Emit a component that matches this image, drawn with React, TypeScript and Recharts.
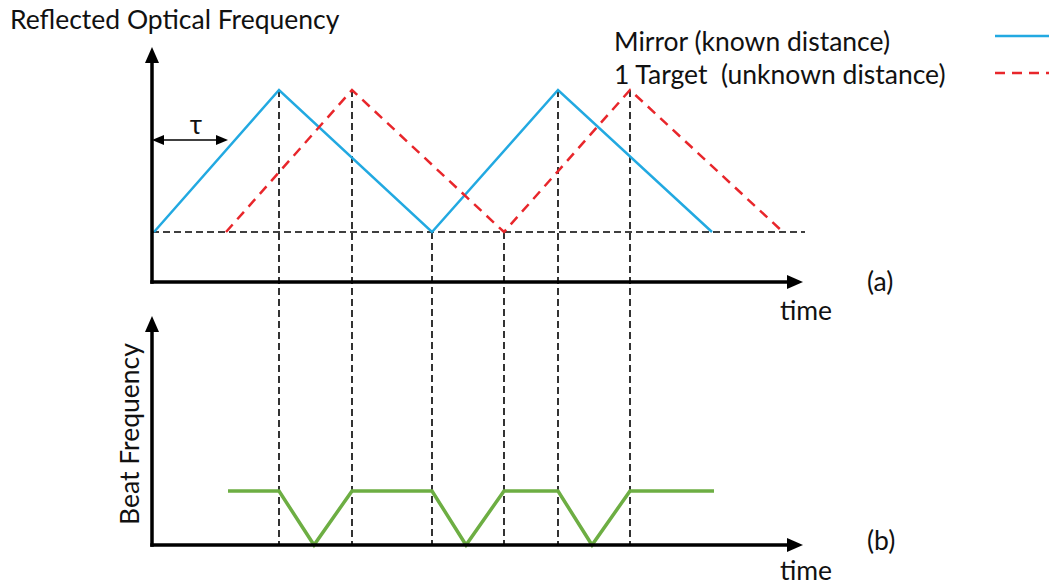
import React from 'react';
import { ComposedChart, Line, XAxis, YAxis, ReferenceLine, Customized } from 'recharts';

// ---- data (time in arbitrary units, frequency normalised) ----
const mirrorTimes = [2, 127, 280, 406, 560];
const mirrorFreq = [0, 1, 0, 1, 0];
const targetTimes = [74, 200, 352, 478, 631];
const targetFreq = [0, 1, 0, 1, 0];
const beatTimes = [76, 127, 162, 200, 280, 314, 352, 406, 440, 478, 562];
const beatFreq = [1, 1, 0, 1, 1, 0, 1, 1, 0, 1, 1];
const markerTimes = [127, 200, 280, 352, 406, 478];
const markerFreq = [1, 1, 0, 0, 1, 1];
const tauEnd = 76;
const legendLabels = ['Mirror (known distance)', '1 Target  (unknown distance)'];

const mirrorData = mirrorTimes.map((t, i) => ({ t, f: mirrorFreq[i] }));
const targetData = targetTimes.map((t, i) => ({ t, f: targetFreq[i] }));
const beatData = beatTimes.map((t, i) => ({ t, f: beatFreq[i] }));

// ---- layout ----
const W = 1049;
const H = 585;
const X0 = 152; // pixel of t = 0
const xDomain = [-X0, W - X0];
// optical axis: f=0 at px 232, f=1 at px 90
const OPT0 = 232, OPTK = 142;
const optDomain = [OPT0 / OPTK - H / OPTK, OPT0 / OPTK];
const optV = (p: number) => (OPT0 - p) / OPTK;
// beat axis: f=0 at px 545, f=1 at px 491
const BEAT0 = 545, BEATK = 54;
const beatDomain = [BEAT0 / BEATK - H / BEATK, BEAT0 / BEATK];
const beatV = (p: number) => (BEAT0 - p) / BEATK;

const BLUE = '#22A9E1';
const RED = '#E8262B';
const GREEN = '#6DAE43';
const FONT = 'Lato, "Open Sans", sans-serif';

const arrowShape = (lw: number, hl: number, hw: number, both = false) => (props: any) => {
  const { x1, y1, x2, y2 } = props;
  const dx = x2 - x1, dy = y2 - y1;
  const len = Math.hypot(dx, dy) || 1;
  const ux = dx / len, uy = dy / len;
  const px = -uy, py = ux;
  const bx = x2 - ux * hl, by = y2 - uy * hl;
  const sx = both ? x1 + ux * hl : x1 - ux * (lw / 2);
  const sy = both ? y1 + uy * hl : y1 - uy * (lw / 2);
  return (
    <g>
      <line x1={sx} y1={sy} x2={bx + ux} y2={by + uy} stroke="#000" strokeWidth={lw} />
      <polygon points={`${x2},${y2} ${bx + px * hw},${by + py * hw} ${bx - px * hw},${by - py * hw}`} fill="#000" />
      {both && (
        <polygon
          points={`${x1},${y1} ${x1 + ux * hl + px * hw},${y1 + uy * hl + py * hw} ${x1 + ux * hl - px * hw},${y1 + uy * hl - py * hw}`}
          fill="#000"
        />
      )}
    </g>
  );
};

const Texts = () => (
  <g fontFamily={FONT} fill="#111" fontSize={26.5}>
    <text x={10} y={29}>Reflected Optical Frequency</text>
    <text x={614} y={51}>{legendLabels[0]}</text>
    <text x={614} y={84} style={{ whiteSpace: 'pre' }}>{legendLabels[1]}</text>
    <line x1={995} y1={36} x2={1049} y2={36} stroke={BLUE} strokeWidth={2.5} />
    <line x1={995} y1={73} x2={1049} y2={73} stroke={RED} strokeWidth={2.5} strokeDasharray="10 7" />
    <text x={780} y={320}>time</text>
    <text x={780} y={580}>time</text>
    <text x={867} y={291}>(a)</text>
    <text x={867} y={550}>(b)</text>
    <text x={196} y={134} textAnchor="middle">τ</text>
    <text x={139} y={434} textAnchor="middle" transform="rotate(-90 139 434)">Beat Frequency</text>
  </g>
);

export default function App() {
  const axisTop = optV(282);
  return (
    <div style={{ position: 'fixed', left: 0, top: 0, width: W, height: H, background: '#fff' }}>
      <ComposedChart width={W} height={H} margin={{ top: 0, right: 0, bottom: 0, left: 0 }}>
        <XAxis type="number" dataKey="t" domain={xDomain} allowDataOverflow hide />
        <YAxis yAxisId="opt" type="number" domain={optDomain} allowDataOverflow hide />
        <YAxis yAxisId="beat" type="number" domain={beatDomain} allowDataOverflow hide />

        {/* baseline */}
        <ReferenceLine yAxisId="opt" segment={[{ x: 0, y: 0 }, { x: 653, y: 0 }]} stroke="#000" strokeWidth={1.6} strokeDasharray="7 4" />
        {/* vertical markers */}
        {markerTimes.map((t, i) => (
          <ReferenceLine
            key={i}
            yAxisId="opt"
            segment={[{ x: t, y: markerFreq[i] }, { x: t, y: optV(545) }]}
            stroke="#000"
            strokeWidth={1.6}
            strokeDasharray="7 4"
          />
        ))}

        <Line data={mirrorData} dataKey="f" yAxisId="opt" type="linear" stroke={BLUE} strokeWidth={2.5} dot={false} activeDot={false} isAnimationActive={false} />
        <Line data={targetData} dataKey="f" yAxisId="opt" type="linear" stroke={RED} strokeWidth={2.5} strokeDasharray="10 7" dot={false} activeDot={false} isAnimationActive={false} />
        <Line data={beatData} dataKey="f" yAxisId="beat" type="linear" stroke={GREEN} strokeWidth={3.5} dot={false} activeDot={false} isAnimationActive={false} />

        {/* axes with arrows */}
        <ReferenceLine yAxisId="opt" segment={[{ x: 0, y: axisTop }, { x: 0, y: optV(47) }]} shape={arrowShape(3.5, 16, 7)} />
        <ReferenceLine yAxisId="opt" segment={[{ x: 0, y: axisTop }, { x: 651, y: axisTop }]} shape={arrowShape(3.5, 16, 7)} />
        <ReferenceLine yAxisId="beat" segment={[{ x: 0, y: 0 }, { x: 0, y: beatV(316) }]} shape={arrowShape(3.5, 16, 7)} />
        <ReferenceLine yAxisId="beat" segment={[{ x: 0, y: 0 }, { x: 651, y: 0 }]} shape={arrowShape(3.5, 16, 7)} />
        {/* tau arrow */}
        <ReferenceLine yAxisId="opt" segment={[{ x: 0, y: optV(140) }, { x: tauEnd, y: optV(140) }]} shape={arrowShape(1.5, 12, 5, true)} />

        <Customized component={Texts} />
      </ComposedChart>
    </div>
  );
}
